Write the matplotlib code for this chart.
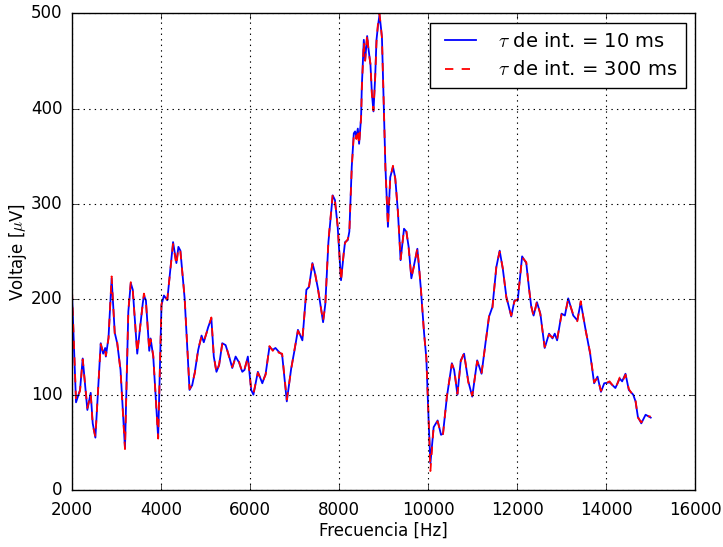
import matplotlib
matplotlib.use("Agg")
import matplotlib.pyplot as plt

freq = [2000, 2090, 2180, 2240, 2345, 2420, 2465, 2525, 2615, 2645, 2700, 2745, 2760, 2820, 2890,
        2960, 3015, 3090, 3190, 3265, 3320, 3365, 3465, 3590, 3615, 3660, 3735, 3765, 3825, 3935,
        4010, 4065, 4140, 4270, 4345, 4390, 4435, 4530, 4640, 4700, 4760, 4835, 4910, 4960, 5060,
        5130, 5185, 5245, 5305, 5375, 5450, 5525, 5600, 5675, 5750, 5825, 5875, 5950, 6025, 6075,
        6175, 6275, 6350, 6435, 6510, 6570, 6645, 6720, 6825, 6925, 7000, 7075, 7175, 7265, 7325,
        7400, 7450, 7530, 7640, 7690, 7760, 7856, 7907, 7968, 8043, 8104, 8133, 8194, 8230, 8284,
        8330, 8359, 8388, 8420, 8449, 8494, 8510, 8555, 8585, 8630, 8659, 8704, 8736, 8772, 8810,
        8840, 8871, 8907, 8930, 8962, 9000, 9040, 9097, 9149, 9210, 9262, 9323, 9381, 9458, 9510,
        9562, 9623, 9684, 9758, 9833, 9910, 9960, 10013, 10051, 10124, 10213, 10289, 10333, 10422,
        10533, 10584, 10658, 10733, 10807, 10902, 10991, 11102, 11200, 11296, 11369, 11444, 11533,
        11607, 11680, 11756, 11867, 11940, 12013, 12111, 12204, 12263, 12317, 12369, 12444, 12521,
        12618, 12716, 12793, 12845, 12897, 12997, 13072, 13147, 13260, 13351, 13428, 13526, 13639,
        13729, 13805, 13882, 13956, 14076, 14206, 14303, 14358, 14433, 14508, 14607, 14659, 14711,
        14788, 14885, 15000]

v_10ms = [206, 92, 105, 138, 84, 102, 70, 55, 129, 154, 143, 149, 140, 160, 222,
          165, 154, 126, 44, 187, 217, 210, 143, 196, 204, 199, 146, 159, 140, 55,
          194, 204, 199, 260, 238, 255, 251, 201, 105, 110, 124, 147, 162, 155, 171,
          180, 140, 124, 131, 154, 152, 141, 128, 140, 134, 124, 126, 140, 105, 100,
          124, 112, 122, 150, 147, 149, 145, 142, 93, 128, 147, 168, 157, 210, 213,
          238, 229, 210, 176, 195, 260, 309, 304, 276, 220, 248, 260, 262, 271, 339,
          374, 376, 370, 379, 363, 391, 423, 472, 451, 476, 463, 446, 416, 397, 433,
          472, 486, 498, 489, 475, 409, 339, 276, 328, 339, 327, 290, 241, 274, 271,
          255, 222, 236, 253, 213, 164, 138, 70, 28, 66, 73, 58, 59, 98,
          133, 126, 100, 136, 143, 114, 98, 136, 122, 157, 182, 192, 234,
          251, 231, 203, 182, 199, 199, 245, 238, 213, 192, 183, 197, 185,
          149, 164, 159, 164, 157, 185, 183, 201, 183, 178, 197, 171, 143,
          112, 119, 103, 112, 113, 107, 117, 114, 122, 105, 100, 93, 77,
          70, 79, 76]

v_300ms = [209, 94, 104, 137, 86, 101, 68, 56, 128, 153, 144, 148, 141, 159, 224,
           164, 155, 125, 43, 188, 218, 209, 144, 195, 206, 198, 147, 158, 141, 54,
           195, 203, 200, 258, 236, 254, 250, 202, 106, 111, 123, 148, 161, 156, 170,
           181, 141, 123, 132, 153, 153, 140, 129, 139, 135, 123, 127, 139, 106, 101,
           123, 113, 121, 151, 146, 150, 144, 143, 95, 127, 148, 167, 158, 209, 214,
           237, 230, 209, 177, 194, 262, 310, 303, 277, 219, 249, 259, 263, 270, 338,
           372, 375, 368, 378, 362, 390, 420, 470, 450, 478, 461, 447, 415, 398, 432,
           470, 488, 499, 490, 474, 410, 338, 277, 327, 340, 326, 291, 242, 273, 272,
           254, 223, 235, 254, 214, 163, 139, 72, 20, 67, 72, 59, 58, 99,
           132, 127, 101, 135, 144, 113, 99, 135, 123, 156, 183, 191, 235,
           250, 232, 202, 183, 198, 200, 244, 239, 212, 193, 182, 198, 184,
           150, 163, 160, 163, 158, 184, 184, 200, 184, 177, 198, 170, 144,
           113, 118, 104, 111, 114, 106, 118, 113, 121, 106, 99, 94, 76,
           71, 78, 77]

labels = [r'$\tau$ de int. = 10 ms', r'$\tau$ de int. = 300 ms']

plt.style.use('classic')
plt.rcParams['font.family'] = ['DejaVu Sans']
fig = plt.figure(figsize=(7.23, 5.47), dpi=100, facecolor='white')
ax = fig.add_axes([0.0996, 0.104, 0.862, 0.872])
ax.set_facecolor('white')

ax.plot(freq, v_10ms, color='blue', linestyle='-', linewidth=1.3, label=labels[0])
ax.plot(freq, v_300ms, color='red', linestyle='--', linewidth=1.3, label=labels[1])

ax.set_xlim(2000, 16000)
ax.set_ylim(0, 500)
ax.set_xticks(range(2000, 16001, 2000))
ax.set_yticks(range(0, 501, 100))
ax.grid(True, color='black', linestyle=':', linewidth=0.8)
ax.tick_params(labelsize=12, direction='in')
ax.tick_params(axis='x', pad=8)
ax.tick_params(axis='y', pad=7)
ax.set_xlabel('Frecuencia [Hz]', fontsize=12, labelpad=2)
ax.set_ylabel(r'Voltaje [$\mu$V]', fontsize=12, labelpad=1)

leg = ax.legend(loc='upper right', fontsize=14, fancybox=False, handlelength=2.2,
                numpoints=2, borderpad=0.45)
leg.get_frame().set_edgecolor('black')
leg.get_frame().set_linewidth(1.0)

fig.savefig('out.png', dpi=100, facecolor='white')
